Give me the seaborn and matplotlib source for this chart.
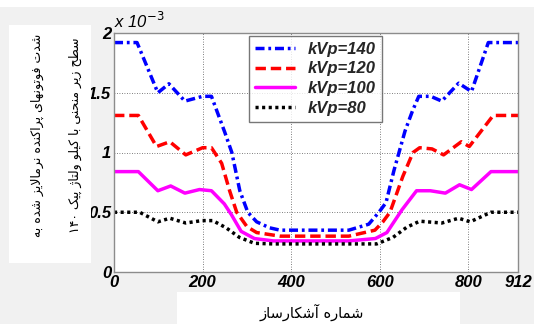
import re
import numpy as np
import pandas as pd
import matplotlib
matplotlib.use("Agg")
import matplotlib.pyplot as plt
from matplotlib.patches import Rectangle
import seaborn as sns

# ---------------- data (values in units of 1e-3) ----------------
x_140 = [0, 52, 99, 124, 160, 200, 220, 250, 266, 284, 302, 322, 351, 375, 530, 575, 598,
         614, 632, 657, 674, 688, 715, 740, 778, 807, 845, 912]
y_140 = [1.92, 1.92, 1.50, 1.575, 1.43, 1.47, 1.47, 1.17, 1.0, 0.68, 0.5, 0.42, 0.37, 0.35,
         0.35, 0.40, 0.5, 0.58, 0.85, 1.18, 1.35, 1.47, 1.47, 1.43, 1.58, 1.51, 1.92, 1.92]

x_120 = [0, 55, 96, 126, 162, 200, 220, 243, 261, 277, 300, 322, 375, 530, 589, 607, 623,
         652, 675, 690, 718, 744, 784, 802, 856, 912]
y_120 = [1.31, 1.31, 1.05, 1.09, 0.98, 1.04, 1.04, 0.91, 0.68, 0.5, 0.38, 0.33, 0.30, 0.30,
         0.35, 0.42, 0.5, 0.8, 1.0, 1.04, 1.03, 0.98, 1.09, 1.05, 1.31, 1.31]

x_100 = [0, 55, 99, 128, 160, 193, 220, 249, 265, 287, 317, 360, 530, 590, 616, 650, 683,
         714, 748, 780, 807, 851, 912]
y_100 = [0.84, 0.84, 0.68, 0.72, 0.66, 0.69, 0.68, 0.57, 0.48, 0.34, 0.28, 0.26, 0.26, 0.28,
         0.33, 0.52, 0.68, 0.68, 0.66, 0.73, 0.69, 0.84, 0.84]

x_80 = [0, 58, 99, 126, 162, 198, 223, 253, 283, 317, 360, 593, 630, 661, 690, 740, 778,
        804, 851, 912]
y_80 = [0.50, 0.50, 0.42, 0.45, 0.41, 0.43, 0.43, 0.37, 0.29, 0.24, 0.235, 0.235, 0.29,
        0.375, 0.425, 0.41, 0.45, 0.42, 0.50, 0.50]

series_labels = ["kVp=140", "kVp=120", "kVp=100", "kVp=80"]
x_ticks = [0, 200, 400, 600, 800, 912]
y_ticks = [0, 0.5, 1, 1.5, 2]
y_ticklabels = ["0", "0.5", "1", "1.5", "2"]

ylabel_line1 = "شدت فوتونهای پراکنده نرمالایز شده به"
ylabel_line2 = "سطح زیر منحنی با کیلو ولتاژ پیک ۱۴۰"
xlabel_text = "شماره آشکارساز"

# ---------------- Persian shaping (presentation forms) ----------------
FORMS = {
    '\u0627': ('\uFE8D', '\uFE8E', None, None),
    '\u0622': ('\uFE81', '\uFE82', None, None),
    '\u0628': ('\uFE8F', '\uFE90', '\uFE91', '\uFE92'),
    '\u067E': ('\uFB56', '\uFB57', '\uFB58', '\uFB59'),
    '\u062A': ('\uFE95', '\uFE96', '\uFE97', '\uFE98'),
    '\u062D': ('\uFEA1', '\uFEA2', '\uFEA3', '\uFEA4'),
    '\u062F': ('\uFEA9', '\uFEAA', None, None),
    '\u0631': ('\uFEAD', '\uFEAE', None, None),
    '\u0632': ('\uFEAF', '\uFEB0', None, None),
    '\u0698': ('\uFB8A', '\uFB8B', None, None),
    '\u0633': ('\uFEB1', '\uFEB2', '\uFEB3', '\uFEB4'),
    '\u0634': ('\uFEB5', '\uFEB6', '\uFEB7', '\uFEB8'),
    '\u0637': ('\uFEC1', '\uFEC2', '\uFEC3', '\uFEC4'),
    '\u0641': ('\uFED1', '\uFED2', '\uFED3', '\uFED4'),
    '\u06A9': ('\uFB8E', '\uFB8F', '\uFB90', '\uFB91'),
    '\u0644': ('\uFEDD', '\uFEDE', '\uFEDF', '\uFEE0'),
    '\u0645': ('\uFEE1', '\uFEE2', '\uFEE3', '\uFEE4'),
    '\u0646': ('\uFEE5', '\uFEE6', '\uFEE7', '\uFEE8'),
    '\u0647': ('\uFEE9', '\uFEEA', '\uFEEB', '\uFEEC'),
    '\u0648': ('\uFEED', '\uFEEE', None, None),
    '\u06CC': ('\uFBFC', '\uFBFD', '\uFBFE', '\uFBFF'),
}
LAM_ALEF = {'\u0627': ('\uFEFB', '\uFEFC'), '\u0622': ('\uFEF5', '\uFEF6')}


def shape(text):
    chars = list(text)
    n = len(chars)
    out = []
    prev_join = False
    i = 0
    while i < n:
        c = chars[i]
        if c not in FORMS:
            out.append(c)
            prev_join = False
            i += 1
            continue
        if c == '\u0644' and i + 1 < n and chars[i + 1] in LAM_ALEF:
            lig = LAM_ALEF[chars[i + 1]]
            out.append(lig[1] if prev_join else lig[0])
            prev_join = False
            i += 2
            continue
        nxt = chars[i + 1] if i + 1 < n else ''
        iso, fin, ini, med = FORMS[c]
        next_join = (ini is not None) and (nxt in FORMS)
        if prev_join and next_join:
            f = med
        elif prev_join:
            f = fin
        elif next_join:
            f = ini
        else:
            f = iso
        out.append(f)
        prev_join = next_join
        i += 1
    s = ''.join(out)[::-1]
    s = re.sub(r'[0-9\u06F0-\u06F9]+', lambda m: m.group(0)[::-1], s)
    return s


# ---------------- figure ----------------
sns.set_style("white")
plt.rcParams['font.family'] = ['Liberation Sans', 'DejaVu Sans']

W, H = 534, 324
fig = plt.figure(figsize=(W / 100, H / 100), dpi=100, facecolor='#f1f1f1')

# white panels of the original figure
fig.patches.append(Rectangle((0, 1 - 7 / H), 1, 7 / H, transform=fig.transFigure,
                             facecolor='white', edgecolor='none', zorder=0))
fig.patches.append(Rectangle((9 / W, 1 - 263 / H), 82 / W, 238 / H, transform=fig.transFigure,
                             facecolor='white', edgecolor='none', zorder=0))
fig.patches.append(Rectangle((177 / W, 0), 283 / W, 32 / H, transform=fig.transFigure,
                             facecolor='white', edgecolor='none', zorder=0))

ax = fig.add_axes([114 / W, 1 - 272 / H, 404 / W, 239 / H])
ax.set_facecolor('white')

styles = [
    (x_140, y_140, '#0000ff', (0, (2.6, 1.1, 0.8, 1.1))),
    (x_120, y_120, '#ff0000', (0, (3.0, 1.4))),
    (x_100, y_100, '#ff00ff', '-'),
    (x_80, y_80, '#000000', (0, (0.9, 1.0))),
]
for (xs, ys, col, ls), lab in zip(styles, series_labels):
    df = pd.DataFrame({'x': xs, 'y': ys})
    sns.lineplot(data=df, x='x', y='y', ax=ax, color=col, linestyle=ls, linewidth=2.5,
                 label=lab, sort=False, estimator=None)

ax.set_xlim(0, 912)
ax.set_ylim(0, 2)
ax.set_xticks(x_ticks)
ax.set_xticklabels([str(t) for t in x_ticks])
ax.set_yticks(y_ticks)
ax.set_yticklabels(y_ticklabels)
ax.set_xlabel('')
ax.set_ylabel('')
ax.grid(True, color='#555555', linestyle=(0, (1, 2)), linewidth=0.6)
for sp in ax.spines.values():
    sp.set_color('#8c8c8c')
    sp.set_linewidth(1.0)
ax.tick_params(direction='in', length=4, width=0.8, color='#8c8c8c', pad=2)
for lbl in ax.get_xticklabels() + ax.get_yticklabels():
    lbl.set_fontsize(12)
    lbl.set_fontweight('bold')
    lbl.set_fontstyle('italic')
    lbl.set_color('black')

# exponent text like MATLAB
ax.text(0.0, 1.01, r'x 10$^{-3}$', transform=ax.transAxes, ha='left', va='bottom',
        fontsize=12, fontstyle='italic', color='black')

leg = ax.legend(loc='upper left', bbox_to_anchor=(249 / W, 1 - 36 / H),
                bbox_transform=fig.transFigure, borderaxespad=0, frameon=True,
                fancybox=False, edgecolor='#555555', handlelength=2.4, handletextpad=0.8,
                labelspacing=0.28, borderpad=0.35,
                prop={'family': 'Liberation Sans', 'weight': 'bold', 'style': 'italic',
                      'size': 12})
leg.get_frame().set_linewidth(1.0)

# Persian labels
fa_font = ['DejaVu Sans']
fig.text(37 / W, 1 - 135 / H, shape(ylabel_line1), rotation=90, ha='center', va='center',
         fontsize=9, family=fa_font, color='black')
fig.text(75 / W, 1 - 135 / H, shape(ylabel_line2), rotation=90, ha='center', va='center',
         fontsize=9, family=fa_font, color='black')
fig.text(312 / W, 1 - 312 / H, shape(xlabel_text), ha='center', va='center',
         fontsize=10.5, family=fa_font, color='black')

fig.savefig('out.png', dpi=100, facecolor=fig.get_facecolor())
